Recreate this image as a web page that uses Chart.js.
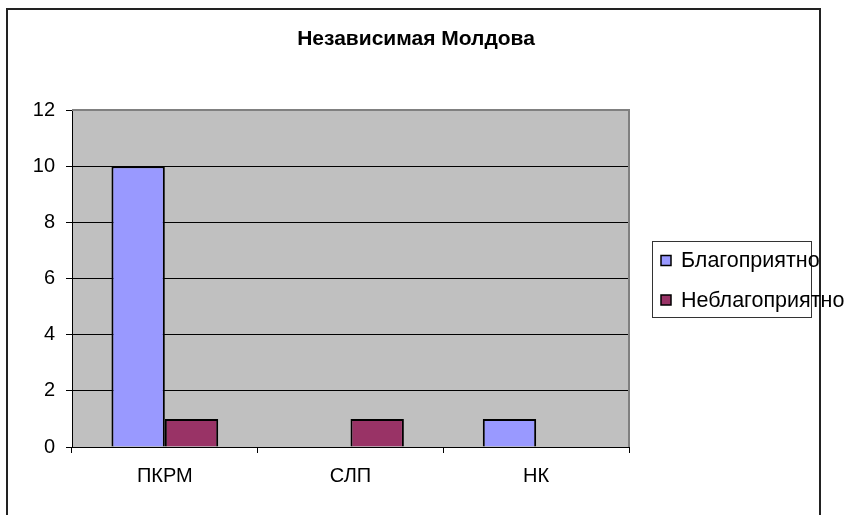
<!DOCTYPE html>
<html>
<head>
<meta charset="utf-8">
<script src="https://cdn.jsdelivr.net/npm/chart.js@4.4.0/dist/chart.umd.min.js"></script>
<style>
html,body{margin:0;padding:0;background:#fff;}
#wrap{width:846px;height:515px;position:relative;}
</style>
</head>
<body>
<div id="wrap"><canvas id="c" width="846" height="515"></canvas></div>
<script>
const titleText = "Независимая Молдова";
const categories = ["ПКРМ", "СЛП", "НК"];
const seriesNames = ["Благоприятно", "Неблагоприятно"];
const favorable = [10, 0, 1];
const unfavorable = [1, 1, 0];
const yTicks = [0, 2, 4, 6, 8, 10, 12];

const FONT = "'Liberation Sans', Arial, sans-serif";

const decor = {
  id: 'decor',
  beforeDraw(chart) {
    const {ctx, chartArea: a} = chart;
    ctx.save();
    ctx.fillStyle = '#c0c0c0';
    ctx.fillRect(a.left, a.top, a.right - a.left, a.bottom - a.top);
    ctx.restore();
  },
  afterDraw(chart) {
    const {ctx, chartArea: a} = chart;
    ctx.save();
    // plot area border (top/right gray)
    ctx.strokeStyle = '#808080';
    ctx.lineWidth = 2;
    ctx.beginPath();
    ctx.moveTo(a.left, a.top);
    ctx.lineTo(a.right, a.top);
    ctx.lineTo(a.right, a.bottom);
    ctx.stroke();
    // outer chart border
    ctx.strokeStyle = '#222';
    ctx.lineWidth = 2;
    ctx.strokeRect(7, 9, 813, 600);
    // title
    ctx.fillStyle = '#000';
    ctx.font = 'bold 21px ' + FONT;
    ctx.textAlign = 'center';
    ctx.textBaseline = 'middle';
    ctx.fillText(chart.options.plugins.customTitle.text, 416, 39);
    // legend
    ctx.strokeStyle = '#333';
    ctx.lineWidth = 1;
    ctx.strokeRect(652.5, 241.5, 159, 76);
    const ds = chart.data.datasets;
    const ys = [260.5, 300];
    ctx.font = '21.5px ' + FONT;
    ctx.textBaseline = 'middle';
    ctx.textAlign = 'left';
    ds.forEach((d, i) => {
      ctx.fillStyle = d.backgroundColor;
      ctx.fillRect(661, ys[i] - 5, 10, 10);
      ctx.strokeStyle = '#000';
      ctx.lineWidth = 1.5;
      ctx.strokeRect(661, ys[i] - 5, 10, 10);
      ctx.fillStyle = '#000';
      ctx.fillText(d.label, 681, ys[i] + 1);
    });
    ctx.restore();
  }
};

new Chart(document.getElementById('c'), {
  type: 'bar',
  data: {
    labels: categories,
    datasets: [
      {label: seriesNames[0], data: favorable, backgroundColor: '#9999ff', borderColor: '#000', borderWidth: 2},
      {label: seriesNames[1], data: unfavorable, backgroundColor: '#993366', borderColor: '#000', borderWidth: 2}
    ]
  },
  options: {
    responsive: false,
    animation: false,
    devicePixelRatio: 1,
    categoryPercentage: 0.575,
    barPercentage: 1,
    layout: {padding: {left: 0, right: 217, top: 110, bottom: 0}},
    plugins: {
      legend: {display: false},
      tooltip: {enabled: false},
      title: {display: false},
      customTitle: {text: titleText}
    },
    scales: {
      x: {
        afterFit(s) { s.height = 68; },
        grid: {offset: true, drawOnChartArea: false, drawTicks: true, tickLength: 6, color: '#000', lineWidth: 1},
        border: {color: '#000', width: 1},
        ticks: {color: '#000', font: {family: FONT, size: 20}, padding: 11}
      },
      y: {
        min: 0, max: 12,
        afterFit(s) { s.width = 72; },
        afterBuildTicks(s) { s.ticks = yTicks.map(v => ({value: v})); },
        grid: {color: '#000', lineWidth: 1, tickLength: 6, drawTicks: true},
        border: {color: '#000', width: 1},
        ticks: {color: '#000', font: {family: FONT, size: 20}, padding: 11}
      }
    }
  },
  plugins: [decor]
});
</script>
</body>
</html>
